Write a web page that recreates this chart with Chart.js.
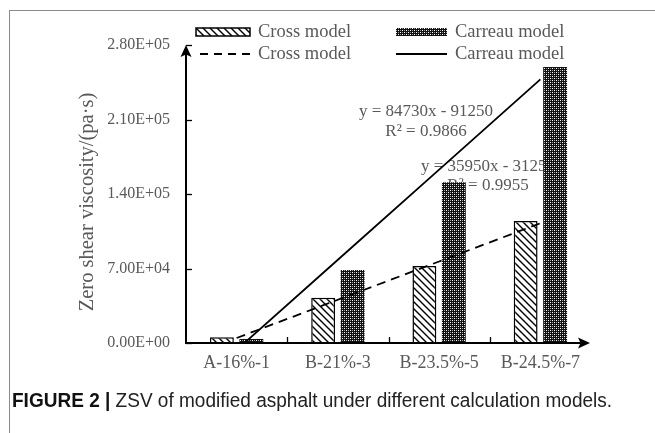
<!DOCTYPE html>
<html>
<head>
<meta charset="utf-8">
<script src="https://cdn.jsdelivr.net/npm/chart.js@4.4.1/dist/chart.umd.min.js"></script>
<style>
  html, body { margin: 0; padding: 0; background: #fff; }
  #wrap { position: relative; width: 655px; height: 433px; overflow: hidden; }
  #frame { position: absolute; left: 9px; top: 10px; width: 700px; height: 500px;
           border-top: 1.5px solid #8a8a8a; border-left: 1.5px solid #8a8a8a; }
  #c { position: absolute; left: 0; top: 0; }
  #cap { position: absolute; left: 12px; top: 389px; white-space: nowrap;
         font-family: "Liberation Sans", Arial, sans-serif; font-size: 20px; color: #222;
         transform-origin: 0 0; }
  #cap b { font-weight: bold; color: #111; }
</style>
</head>
<body>
<div id="wrap">
  <div id="frame"></div>
  <canvas id="c" width="655" height="433"></canvas>
  <div id="cap"><b>FIGURE 2 |</b> ZSV of modified asphalt under different calculation models.</div>
</div>
<script>
// ---- data ----
const categories = ['A-16%-1', 'B-21%-3', 'B-23.5%-5', 'B-24.5%-7'];
const crossValues = [5400, 42600, 72300, 114600];
const carreauValues = [3800, 68600, 151000, 259300];
const crossTrend = [4700, 40650, 76600, 112550];
const carreauTrend = [-6520, 78210, 162940, 247670];
const yTicks = [0, 70000, 140000, 210000, 280000];
const seriesNames = ['Cross model', 'Carreau model'];
const eqCarreau = ['y = 84730x - 91250', 'R\u00B2 = 0.9866'];
const eqCross = ['y = 35950x - 31250', 'R\u00B2 = 0.9955'];

const GRAY = '#595959';
const SERIF = '"Liberation Serif", "Times New Roman", serif';

// fit caption width
(function(){
  const cap = document.getElementById('cap');
  const w = cap.offsetWidth;
  cap.style.transform = 'scaleX(' + (600 / w) + ')';
})();

function makeHatch() {
  const t = document.createElement('canvas');
  t.width = 7; t.height = 7;
  const g = t.getContext('2d');
  g.fillStyle = '#fff'; g.fillRect(0, 0, 7, 7);
  g.strokeStyle = '#000'; g.lineWidth = 1.4;
  g.beginPath();
  g.moveTo(-1, -1); g.lineTo(8, 8);
  g.moveTo(-1, 6); g.lineTo(1, 8);
  g.moveTo(6, -1); g.lineTo(8, 1);
  g.stroke();
  return g.createPattern(t, 'repeat');
}
function makeWeave() {
  const t = document.createElement('canvas');
  t.width = 4; t.height = 4;
  const g = t.getContext('2d');
  g.fillStyle = '#111'; g.fillRect(0, 0, 4, 4);
  g.fillStyle = '#fff'; g.fillRect(0, 0, 1, 1); g.fillRect(2, 2, 1, 1);
  g.fillStyle = '#9a9a9a'; g.fillRect(2, 0, 1, 1); g.fillRect(0, 2, 1, 1);
  return g.createPattern(t, 'repeat');
}
const hatch = makeHatch();
const weave = makeWeave();

function fmtSci(v) {
  if (v === 0) return '0.00E+00';
  const e = Math.floor(Math.log10(Math.abs(v)));
  const m = v / Math.pow(10, e);
  return m.toFixed(2) + 'E' + (e >= 0 ? '+' : '-') + String(Math.abs(e)).padStart(2, '0');
}

function arrowHead(ctx, tipX, tipY, dir) {
  ctx.beginPath();
  if (dir === 'up') {
    ctx.moveTo(tipX, tipY);
    ctx.lineTo(tipX + 5.5, tipY + 12);
    ctx.lineTo(tipX, tipY + 9.5);
    ctx.lineTo(tipX - 5.5, tipY + 12);
  } else {
    ctx.moveTo(tipX, tipY);
    ctx.lineTo(tipX - 12, tipY - 5.5);
    ctx.lineTo(tipX - 9.5, tipY);
    ctx.lineTo(tipX - 12, tipY + 5.5);
  }
  ctx.closePath();
  ctx.fillStyle = '#000';
  ctx.fill();
}

const decor = {
  id: 'decor',
  beforeDatasetsDraw(chart) {
    const ctx = chart.ctx;
    ctx.save();
    ctx.fillStyle = GRAY;
    ctx.font = '17px ' + SERIF;
    ctx.textAlign = 'center';
    ctx.textBaseline = 'middle';
    ctx.fillText(eqCarreau[0], 426, 112);
    ctx.fillText(eqCarreau[1], 426, 132);
    ctx.fillText(eqCross[0], 488, 167);
    ctx.fillText(eqCross[1], 488, 186);
    ctx.restore();
  },
  afterDatasetsDraw(chart) {
    const ctx = chart.ctx;
    const xs = chart.scales.x, ys = chart.scales.y;
    const a = chart.chartArea;
    ctx.save();
    ctx.strokeStyle = '#000';
    ctx.lineWidth = 2;
    ctx.beginPath();
    ctx.moveTo(a.left, a.bottom + 1);
    ctx.lineTo(a.left, a.top + 4);
    ctx.stroke();
    ctx.beginPath();
    ctx.moveTo(a.left - 1, a.bottom);
    ctx.lineTo(a.right - 4, a.bottom);
    ctx.stroke();
    ctx.lineWidth = 1.3;
    yTicks.forEach(v => {
      const py = Math.round(ys.getPixelForValue(v)) + 0.5;
      ctx.beginPath(); ctx.moveTo(a.left, py); ctx.lineTo(a.left + 6, py); ctx.stroke();
    });
    for (let i = 1; i < categories.length; i++) {
      const px = Math.round((xs.getPixelForValue(i - 1) + xs.getPixelForValue(i)) / 2) + 0.5;
      ctx.beginPath(); ctx.moveTo(px, a.bottom); ctx.lineTo(px, a.bottom - 6); ctx.stroke();
    }
    arrowHead(ctx, a.left, a.top, 'up');
    arrowHead(ctx, a.right - 1, a.bottom, 'right');

    ctx.save();
    ctx.translate(88, 202);
    ctx.rotate(-Math.PI / 2);
    ctx.fillStyle = GRAY;
    ctx.font = '20.5px ' + SERIF;
    ctx.textAlign = 'center';
    ctx.textBaseline = 'middle';
    ctx.fillText('Zero shear viscosity/(pa\u00B7s)', 0, 0);
    ctx.restore();

    ctx.font = '18.5px ' + SERIF;
    ctx.textAlign = 'left';
    ctx.textBaseline = 'middle';
    ctx.fillStyle = hatch;
    ctx.fillRect(196, 28, 54, 8);
    ctx.strokeStyle = '#000'; ctx.lineWidth = 1.5;
    ctx.strokeRect(196, 28, 54, 8);
    ctx.fillStyle = weave;
    ctx.fillRect(396, 28, 51, 8);
    ctx.fillStyle = GRAY;
    ctx.fillText(seriesNames[0], 258, 32);
    ctx.fillText(seriesNames[1], 455, 32);
    ctx.strokeStyle = '#000'; ctx.lineWidth = 1.8;
    ctx.setLineDash([8, 6]);
    ctx.beginPath(); ctx.moveTo(200, 54); ctx.lineTo(250, 54); ctx.stroke();
    ctx.setLineDash([]);
    ctx.beginPath(); ctx.moveTo(396, 54); ctx.lineTo(447, 54); ctx.stroke();
    ctx.fillText(seriesNames[0], 258, 54);
    ctx.fillText(seriesNames[1], 455, 54);
    ctx.restore();
  }
};

new Chart(document.getElementById('c'), {
  data: {
    labels: categories,
    datasets: [
      { type: 'bar', label: seriesNames[0], data: crossValues, backgroundColor: hatch,
        borderColor: '#000', borderWidth: 1.5, order: 2,
        categoryPercentage: 0.582, barPercentage: 0.81 },
      { type: 'bar', label: seriesNames[1], data: carreauValues, backgroundColor: weave,
        borderWidth: 0, order: 2,
        categoryPercentage: 0.582, barPercentage: 0.81 },
      { type: 'line', label: seriesNames[0] + ' trend', data: crossTrend, borderColor: '#000',
        borderWidth: 1.8, borderDash: [9, 6], pointRadius: 0, fill: false, order: 0, clip: 0 },
      { type: 'line', label: seriesNames[1] + ' trend', data: carreauTrend, borderColor: '#000',
        borderWidth: 1.8, pointRadius: 0, fill: false, order: 0, clip: 0 }
    ]
  },
  options: {
    responsive: false,
    animation: false,
    events: [],
    layout: { padding: { left: 10, top: 45, right: 64, bottom: 0 } },
    plugins: { legend: { display: false }, tooltip: { enabled: false }, title: { display: false } },
    scales: {
      x: {
        offset: true,
        grid: { display: false, drawTicks: false },
        border: { display: false },
        ticks: { color: GRAY, font: { family: SERIF, size: 18 }, padding: 9, maxRotation: 0, autoSkip: false },
        afterFit(s) { s.height = 90; }
      },
      y: {
        min: 0, max: 280000,
        afterBuildTicks(s) { s.ticks = yTicks.map(v => ({ value: v })); },
        grid: { display: false, drawTicks: false },
        border: { display: false },
        ticks: { color: GRAY, font: { family: SERIF, size: 16 }, padding: 16,
                 callback: v => fmtSci(v) },
        afterFit(s) { s.width = 176; }
      }
    }
  },
  plugins: [decor]
});
</script>
</body>
</html>
